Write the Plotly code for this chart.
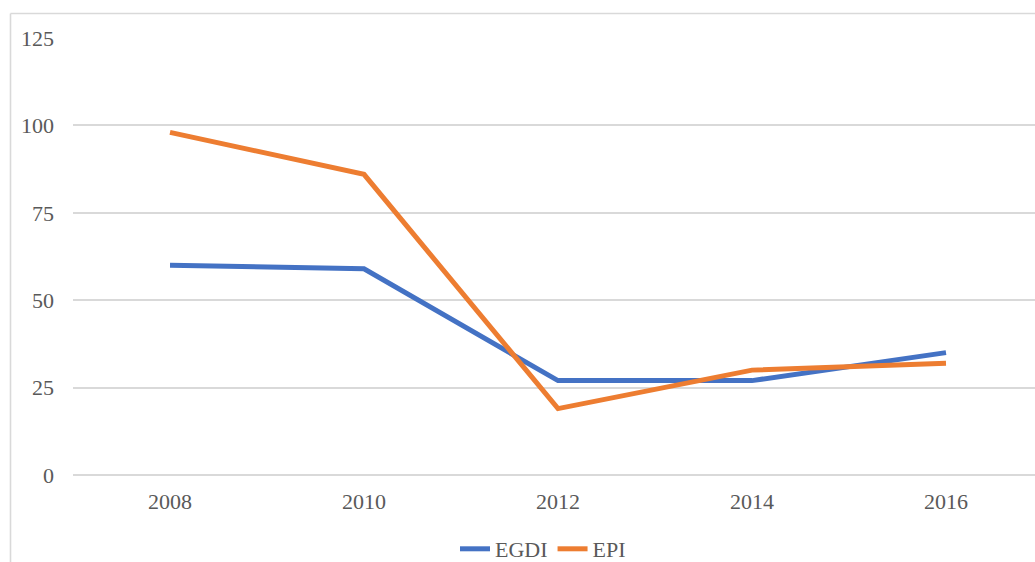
import plotly.graph_objects as go

years = ["2008", "2010", "2012", "2014", "2016"]
egdi = [60, 59, 27, 27, 35]
epi = [98, 86, 19, 30, 32]
y_ticks = [0, 25, 50, 75, 100, 125]

W, H = 1035, 562
L, R, T, B = 73, 0, 38, 87
pw = W - L - R
ph = H - T - B

font = dict(family="Liberation Serif, Times New Roman, serif", size=22, color="#595959")

fig = go.Figure()
fig.add_trace(go.Scatter(x=years, y=egdi, mode="lines", name="EGDI",
                         line=dict(color="#4472C4", width=5)))
fig.add_trace(go.Scatter(x=years, y=epi, mode="lines", name="EPI",
                         line=dict(color="#ED7D31", width=5)))

band = 194.0
fig.update_layout(
    width=W, height=H,
    margin=dict(l=L, r=R, t=T, b=B, pad=0, autoexpand=False),
    paper_bgcolor="white", plot_bgcolor="white",
    font=font,
    showlegend=True,
    legend=dict(orientation="h", x=(543 - L) / pw, xanchor="center",
                y=(475 - 549) / ph, yanchor="middle", font=font,
                bgcolor="rgba(0,0,0,0)"),
    xaxis=dict(type="category", range=[-0.5, -0.5 + pw / band], showgrid=False,
               showline=False, zeroline=False, ticks="", tickfont=font,
               ticklabelstandoff=11),
    yaxis=dict(range=[0, 125], tickvals=y_ticks, showgrid=True, gridcolor="#D9D9D9",
               gridwidth=1.6, zeroline=True, zerolinecolor="#D9D9D9", zerolinewidth=1.6,
               showline=False, ticks="", tickfont=font, ticklabelstandoff=18),
    shapes=[
        dict(type="line", xref="paper", yref="paper",
             x0=(10.5 - L) / pw, x1=(10.5 - L) / pw,
             y0=(475 - 13.5) / ph, y1=(475 - 570) / ph,
             line=dict(color="#D9D9D9", width=1.6), layer="below"),
        dict(type="line", xref="paper", yref="paper",
             x0=(10.5 - L) / pw, x1=1.05,
             y0=(475 - 13.5) / ph, y1=(475 - 13.5) / ph,
             line=dict(color="#D9D9D9", width=1.6), layer="below"),
    ],
)

fig.write_html(
    "out.html",
    config={"displayModeBar": False},
    post_script="document.body.style.margin='0';document.body.style.overflow='hidden';",
)
